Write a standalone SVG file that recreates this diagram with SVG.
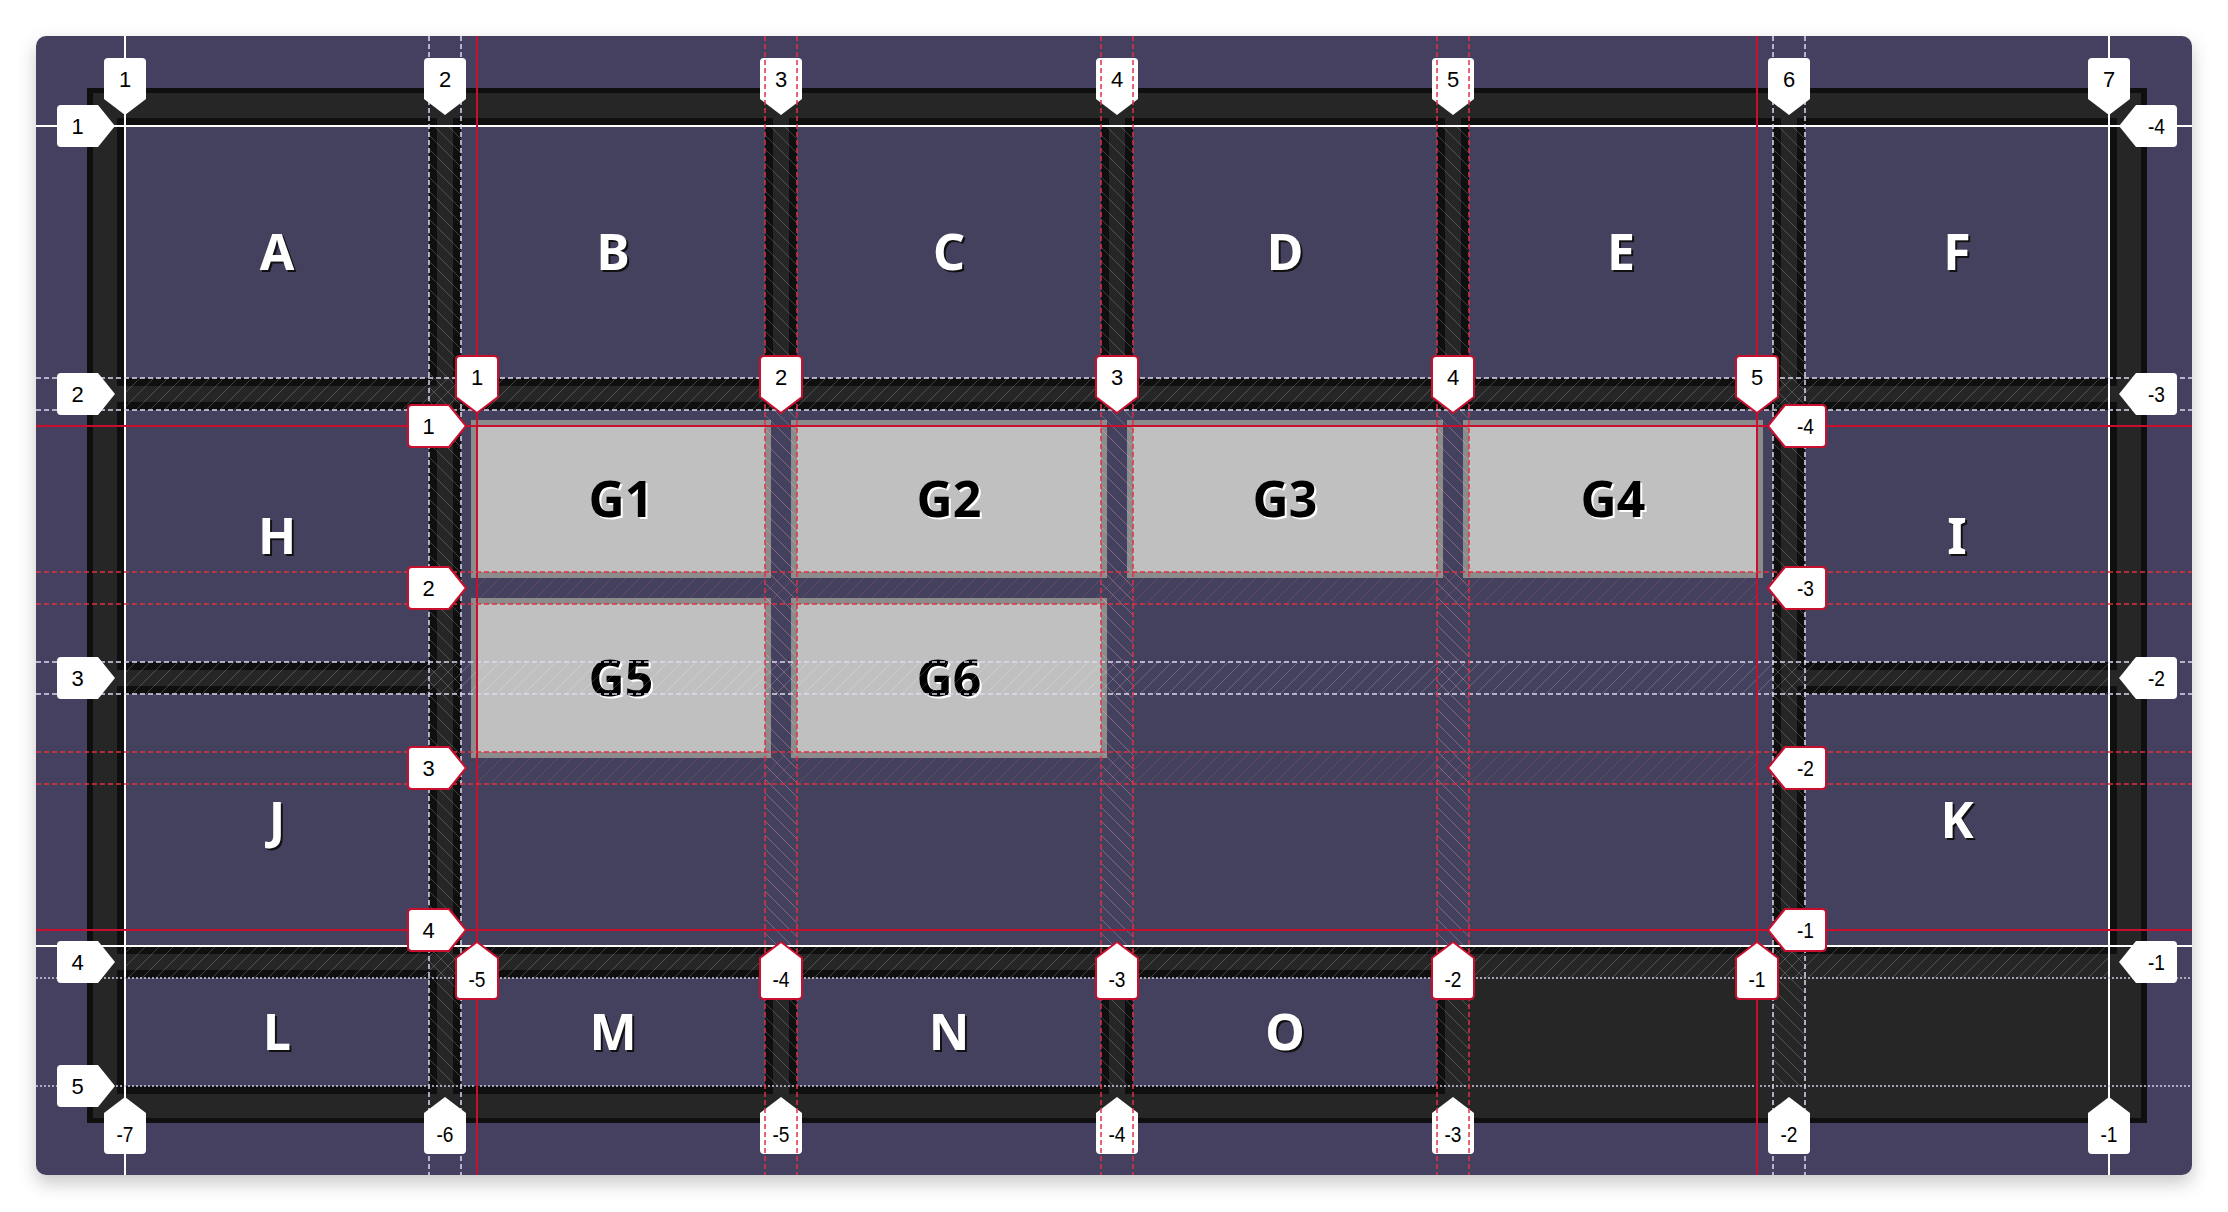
<svg xmlns="http://www.w3.org/2000/svg" xmlns:xlink="http://www.w3.org/1999/xlink" width="2228" height="1212" viewBox="0 0 2228 1212">
<style>
.blk{fill:#0f0f0f}
.pur{fill:#44415f}
.gb{fill:#8c8c8c}
.gf{fill:#c0c0c0}
.big{font-family:"Noto Sans","Liberation Sans",sans-serif;font-weight:700;font-size:50px;text-anchor:middle}
.bigW{fill:#ffffff}
.bigS{fill:#111111}
.gT{fill:#000000}
.gS{fill:#ffffff}
.lbl{font-family:"Liberation Sans",Arial,sans-serif;font-size:22px;text-anchor:middle;fill:#000}
.wl{fill:#ffffff}
.rl{fill:#ffffff;stroke:#c8102e;stroke-width:2;stroke-linejoin:round}
.ws{stroke:#ffffff;stroke-width:2;fill:none}
.wd{stroke:#dcdaf0;stroke-width:1.5;stroke-dasharray:5 3;fill:none}
.wo{stroke:#d0cee4;stroke-width:1.5;stroke-dasharray:2 2;fill:none}
.rs{stroke:#c8102e;stroke-width:2;fill:none}
.rd{stroke:#e0303e;stroke-width:1.5;stroke-dasharray:5 3;fill:none}
</style>
<defs>
<filter id="sh" x="-5%" y="-5%" width="110%" height="115%">
<feDropShadow dx="0" dy="8" stdDeviation="9" flood-color="#000" flood-opacity="0.22"/>
</filter>
<clipPath id="pc"><rect x="36" y="36" width="2156" height="1139" rx="10"/></clipPath>
<pattern id="hwF" patternUnits="userSpaceOnUse" width="14" height="14">
<path d="M0,14 L14,0 M-2,2 L2,-2 M12,16 L16,12" stroke="rgba(255,255,255,0.2)" stroke-width="1"/>
</pattern>
<pattern id="hwB" patternUnits="userSpaceOnUse" width="14" height="14">
<path d="M0,0 L14,14 M-2,12 L2,16 M12,-2 L16,2" stroke="rgba(255,255,255,0.2)" stroke-width="1"/>
</pattern>
<pattern id="hrF" patternUnits="userSpaceOnUse" width="14" height="14">
<path d="M0,14 L14,0 M-2,2 L2,-2 M12,16 L16,12" stroke="rgba(240,110,125,0.2)" stroke-width="1"/>
</pattern>
<pattern id="hrB" patternUnits="userSpaceOnUse" width="14" height="14">
<path d="M0,0 L14,14 M-2,12 L2,16 M12,-2 L16,2" stroke="rgba(240,110,125,0.2)" stroke-width="1"/>
</pattern>
<path id="lblR" d="M-54,-21 H-17 L0,0 L-17,21 H-54 Q-58,21 -58,17 V-17 Q-58,-21 -54,-21 Z"/>
<path id="lblL" d="M54,-21 H17 L0,0 L17,21 H54 Q58,21 58,17 V-17 Q58,-21 54,-21 Z"/>
<path id="lblD" d="M-21,-53 V-16 L0,0 L21,-16 V-53 Q21,-57 17,-57 H-17 Q-21,-57 -21,-53 Z"/>
<path id="lblU" d="M-21,53 V16 L0,0 L21,16 V53 Q21,57 17,57 H-17 Q-21,57 -21,53 Z"/>
</defs>

<rect x="0" y="0" width="2228" height="1212" fill="#ffffff"/>
<rect x="36" y="36" width="2156" height="1139" rx="10" fill="#44415f" filter="url(#sh)"/>

<g id="container">
<rect x="87" y="88" width="2060" height="1035" class="blk"/>
<rect x="93" y="93" width="2048" height="1025" fill="#262626"/>
</g>

<g id="A"><rect x="117" y="118" width="320" height="268" class="blk"/><rect x="125" y="126" width="304" height="252" class="pur"/>
<text x="279" y="272" class="big bigS">A</text><text x="277" y="270" class="big bigW">A</text></g>
<g id="B"><rect x="453" y="118" width="320" height="268" class="blk"/><rect x="461" y="126" width="304" height="252" class="pur"/>
<text x="615" y="272" class="big bigS">B</text><text x="613" y="270" class="big bigW">B</text></g>
<g id="C"><rect x="789" y="118" width="320" height="268" class="blk"/><rect x="797" y="126" width="304" height="252" class="pur"/>
<text x="951" y="272" class="big bigS">C</text><text x="949" y="270" class="big bigW">C</text></g>
<g id="D"><rect x="1125" y="118" width="320" height="268" class="blk"/><rect x="1133" y="126" width="304" height="252" class="pur"/>
<text x="1287" y="272" class="big bigS">D</text><text x="1285" y="270" class="big bigW">D</text></g>
<g id="E"><rect x="1461" y="118" width="320" height="268" class="blk"/><rect x="1469" y="126" width="304" height="252" class="pur"/>
<text x="1623" y="272" class="big bigS">E</text><text x="1621" y="270" class="big bigW">E</text></g>
<g id="F"><rect x="1797" y="118" width="320" height="268" class="blk"/><rect x="1805" y="126" width="304" height="252" class="pur"/>
<text x="1959" y="272" class="big bigS">F</text><text x="1957" y="270" class="big bigW">F</text></g>

<g id="H"><rect x="117" y="402" width="320" height="268" class="blk"/><rect x="125" y="410" width="304" height="252" class="pur"/>
<text x="279" y="556" class="big bigS">H</text><text x="277" y="554" class="big bigW">H</text></g>
<g id="I"><rect x="1797" y="402" width="320" height="268" class="blk"/><rect x="1805" y="410" width="304" height="252" class="pur"/>
<text x="1959" y="556" class="big bigS">I</text><text x="1957" y="554" class="big bigW">I</text></g>
<g id="J"><rect x="117" y="686" width="320" height="268" class="blk"/><rect x="125" y="694" width="304" height="252" class="pur"/>
<text x="279" y="840" class="big bigS">J</text><text x="277" y="838" class="big bigW">J</text></g>
<g id="K"><rect x="1797" y="686" width="320" height="268" class="blk"/><rect x="1805" y="694" width="304" height="252" class="pur"/>
<text x="1959" y="840" class="big bigS">K</text><text x="1957" y="838" class="big bigW">K</text></g>

<g id="G"><rect x="453" y="402" width="1328" height="552" class="blk"/><rect x="461" y="410" width="1312" height="536" class="pur"/></g>

<g id="L"><rect x="117" y="970" width="320" height="124" class="blk"/><rect x="125" y="978" width="304" height="108" class="pur"/>
<text x="279" y="1052" class="big bigS">L</text><text x="277" y="1050" class="big bigW">L</text></g>
<g id="M"><rect x="453" y="970" width="320" height="124" class="blk"/><rect x="461" y="978" width="304" height="108" class="pur"/>
<text x="615" y="1052" class="big bigS">M</text><text x="613" y="1050" class="big bigW">M</text></g>
<g id="N"><rect x="789" y="970" width="320" height="124" class="blk"/><rect x="797" y="978" width="304" height="108" class="pur"/>
<text x="951" y="1052" class="big bigS">N</text><text x="949" y="1050" class="big bigW">N</text></g>
<g id="O"><rect x="1125" y="970" width="320" height="124" class="blk"/><rect x="1133" y="978" width="304" height="108" class="pur"/>
<text x="1287" y="1052" class="big bigS">O</text><text x="1285" y="1050" class="big bigW">O</text></g>

<g id="G1"><rect x="471" y="420" width="300" height="158" class="gb"/><rect x="477" y="426" width="288" height="146" class="gf"/>
<text x="623" y="519" class="big gS">G1</text><text x="621" y="517" class="big gT">G1</text></g>
<g id="G2"><rect x="791" y="420" width="316" height="158" class="gb"/><rect x="797" y="426" width="304" height="146" class="gf"/>
<text x="951" y="519" class="big gS">G2</text><text x="949" y="517" class="big gT">G2</text></g>
<g id="G3"><rect x="1127" y="420" width="316" height="158" class="gb"/><rect x="1133" y="426" width="304" height="146" class="gf"/>
<text x="1287" y="519" class="big gS">G3</text><text x="1285" y="517" class="big gT">G3</text></g>
<g id="G4"><rect x="1463" y="420" width="300" height="158" class="gb"/><rect x="1469" y="426" width="288" height="146" class="gf"/>
<text x="1615" y="519" class="big gS">G4</text><text x="1613" y="517" class="big gT">G4</text></g>
<g id="G5"><rect x="471" y="598" width="300" height="160" class="gb"/><rect x="477" y="604" width="288" height="148" class="gf"/>
<text x="623" y="698" class="big gS">G5</text><text x="621" y="696" class="big gT">G5</text></g>
<g id="G6"><rect x="791" y="598" width="316" height="160" class="gb"/><rect x="797" y="604" width="304" height="148" class="gf"/>
<text x="951" y="698" class="big gS">G6</text><text x="949" y="696" class="big gT">G6</text></g>

<g id="hatching">
<rect x="429" y="126" width="32" height="960" fill="url(#hwB)"/>
<rect x="765" y="126" width="32" height="960" fill="url(#hwB)"/>
<rect x="1101" y="126" width="32" height="960" fill="url(#hwB)"/>
<rect x="1437" y="126" width="32" height="960" fill="url(#hwB)"/>
<rect x="1773" y="126" width="32" height="960" fill="url(#hwB)"/>
<rect x="125" y="378" width="1984" height="32" fill="url(#hwF)"/>
<rect x="125" y="662" width="1984" height="32" fill="url(#hwF)"/>
<rect x="125" y="946" width="1984" height="32" fill="url(#hwF)"/>
<rect x="765" y="426" width="32" height="504" fill="url(#hrB)"/>
<rect x="1101" y="426" width="32" height="504" fill="url(#hrB)"/>
<rect x="1437" y="426" width="32" height="504" fill="url(#hrB)"/>
<rect x="477" y="572" width="1280" height="32" fill="url(#hrF)"/>
<rect x="477" y="752" width="1280" height="32" fill="url(#hrF)"/>
</g>

<g id="connectors" clip-path="url(#pc)">
<g id="white-lines">
<line x1="125" y1="36" x2="125" y2="1175" class="ws"/>
<line x1="2109" y1="36" x2="2109" y2="1175" class="ws"/>
<line x1="36" y1="126" x2="2192" y2="126" class="ws"/>
<line x1="36" y1="946" x2="2192" y2="946" class="ws"/>
<line x1="429" y1="36" x2="429" y2="1175" class="wd"/>
<line x1="461" y1="36" x2="461" y2="1175" class="wd"/>
<line x1="1773" y1="36" x2="1773" y2="1175" class="wd"/>
<line x1="1805" y1="36" x2="1805" y2="1175" class="wd"/>
<line x1="36" y1="378" x2="2192" y2="378" class="wd"/>
<line x1="36" y1="410" x2="2192" y2="410" class="wd"/>
<line x1="36" y1="662" x2="2192" y2="662" class="wd"/>
<line x1="36" y1="694" x2="2192" y2="694" class="wd"/>
<line x1="36" y1="978" x2="2192" y2="978" class="wo"/>
<line x1="36" y1="1086" x2="2192" y2="1086" class="wo"/>
</g>
</g>

<g id="white-labels" class="lbl">
<use xlink:href="#lblD" href="#lblD" x="125" y="115" class="wl"/><text x="125" y="86.5">1</text>
<use xlink:href="#lblD" href="#lblD" x="445" y="115" class="wl"/><text x="445" y="86.5">2</text>
<use xlink:href="#lblD" href="#lblD" x="781" y="115" class="wl"/><text x="781" y="86.5">3</text>
<use xlink:href="#lblD" href="#lblD" x="1117" y="115" class="wl"/><text x="1117" y="86.5">4</text>
<use xlink:href="#lblD" href="#lblD" x="1453" y="115" class="wl"/><text x="1453" y="86.5">5</text>
<use xlink:href="#lblD" href="#lblD" x="1789" y="115" class="wl"/><text x="1789" y="86.5">6</text>
<use xlink:href="#lblD" href="#lblD" x="2109" y="115" class="wl"/><text x="2109" y="86.5">7</text>

<use xlink:href="#lblU" href="#lblU" x="125" y="1097" class="wl"/><text x="125" y="1141.5" textLength="17" lengthAdjust="spacingAndGlyphs">-7</text>
<use xlink:href="#lblU" href="#lblU" x="445" y="1097" class="wl"/><text x="445" y="1141.5" textLength="17" lengthAdjust="spacingAndGlyphs">-6</text>
<use xlink:href="#lblU" href="#lblU" x="781" y="1097" class="wl"/><text x="781" y="1141.5" textLength="17" lengthAdjust="spacingAndGlyphs">-5</text>
<use xlink:href="#lblU" href="#lblU" x="1117" y="1097" class="wl"/><text x="1117" y="1141.5" textLength="17" lengthAdjust="spacingAndGlyphs">-4</text>
<use xlink:href="#lblU" href="#lblU" x="1453" y="1097" class="wl"/><text x="1453" y="1141.5" textLength="17" lengthAdjust="spacingAndGlyphs">-3</text>
<use xlink:href="#lblU" href="#lblU" x="1789" y="1097" class="wl"/><text x="1789" y="1141.5" textLength="17" lengthAdjust="spacingAndGlyphs">-2</text>
<use xlink:href="#lblU" href="#lblU" x="2109" y="1097" class="wl"/><text x="2109" y="1141.5" textLength="17" lengthAdjust="spacingAndGlyphs">-1</text>

<use xlink:href="#lblR" href="#lblR" x="115" y="126" class="wl"/><text x="77.5" y="134">1</text>
<use xlink:href="#lblR" href="#lblR" x="115" y="394" class="wl"/><text x="77.5" y="402">2</text>
<use xlink:href="#lblR" href="#lblR" x="115" y="678" class="wl"/><text x="77.5" y="686">3</text>
<use xlink:href="#lblR" href="#lblR" x="115" y="962" class="wl"/><text x="77.5" y="970">4</text>
<use xlink:href="#lblR" href="#lblR" x="115" y="1086" class="wl"/><text x="77.5" y="1094">5</text>

<use xlink:href="#lblL" href="#lblL" x="2119" y="126" class="wl"/><text x="2156.5" y="134" textLength="17" lengthAdjust="spacingAndGlyphs">-4</text>
<use xlink:href="#lblL" href="#lblL" x="2119" y="394" class="wl"/><text x="2156.5" y="402" textLength="17" lengthAdjust="spacingAndGlyphs">-3</text>
<use xlink:href="#lblL" href="#lblL" x="2119" y="678" class="wl"/><text x="2156.5" y="686" textLength="17" lengthAdjust="spacingAndGlyphs">-2</text>
<use xlink:href="#lblL" href="#lblL" x="2119" y="962" class="wl"/><text x="2156.5" y="970" textLength="17" lengthAdjust="spacingAndGlyphs">-1</text>
</g>

<g id="red-lines" clip-path="url(#pc)">
<line x1="477" y1="36" x2="477" y2="1175" class="rs"/>
<line x1="1757" y1="36" x2="1757" y2="1175" class="rs"/>
<line x1="36" y1="426" x2="2192" y2="426" class="rs"/>
<line x1="36" y1="930" x2="2192" y2="930" class="rs"/>
<line x1="765" y1="36" x2="765" y2="1175" class="rd"/>
<line x1="797" y1="36" x2="797" y2="1175" class="rd"/>
<line x1="1101" y1="36" x2="1101" y2="1175" class="rd"/>
<line x1="1133" y1="36" x2="1133" y2="1175" class="rd"/>
<line x1="1437" y1="36" x2="1437" y2="1175" class="rd"/>
<line x1="1469" y1="36" x2="1469" y2="1175" class="rd"/>
<line x1="36" y1="572" x2="2192" y2="572" class="rd"/>
<line x1="36" y1="604" x2="2192" y2="604" class="rd"/>
<line x1="36" y1="752" x2="2192" y2="752" class="rd"/>
<line x1="36" y1="784" x2="2192" y2="784" class="rd"/>
</g>

<g id="red-labels" class="lbl">
<use xlink:href="#lblD" href="#lblD" x="477" y="413" class="rl"/><text x="477" y="384.5">1</text>
<use xlink:href="#lblD" href="#lblD" x="781" y="413" class="rl"/><text x="781" y="384.5">2</text>
<use xlink:href="#lblD" href="#lblD" x="1117" y="413" class="rl"/><text x="1117" y="384.5">3</text>
<use xlink:href="#lblD" href="#lblD" x="1453" y="413" class="rl"/><text x="1453" y="384.5">4</text>
<use xlink:href="#lblD" href="#lblD" x="1757" y="413" class="rl"/><text x="1757" y="384.5">5</text>

<use xlink:href="#lblU" href="#lblU" x="477" y="942" class="rl"/><text x="477" y="986.5" textLength="17" lengthAdjust="spacingAndGlyphs">-5</text>
<use xlink:href="#lblU" href="#lblU" x="781" y="942" class="rl"/><text x="781" y="986.5" textLength="17" lengthAdjust="spacingAndGlyphs">-4</text>
<use xlink:href="#lblU" href="#lblU" x="1117" y="942" class="rl"/><text x="1117" y="986.5" textLength="17" lengthAdjust="spacingAndGlyphs">-3</text>
<use xlink:href="#lblU" href="#lblU" x="1453" y="942" class="rl"/><text x="1453" y="986.5" textLength="17" lengthAdjust="spacingAndGlyphs">-2</text>
<use xlink:href="#lblU" href="#lblU" x="1757" y="942" class="rl"/><text x="1757" y="986.5" textLength="17" lengthAdjust="spacingAndGlyphs">-1</text>

<use xlink:href="#lblR" href="#lblR" x="466" y="426" class="rl"/><text x="428.5" y="434">1</text>
<use xlink:href="#lblR" href="#lblR" x="466" y="588" class="rl"/><text x="428.5" y="596">2</text>
<use xlink:href="#lblR" href="#lblR" x="466" y="768" class="rl"/><text x="428.5" y="776">3</text>
<use xlink:href="#lblR" href="#lblR" x="466" y="930" class="rl"/><text x="428.5" y="938">4</text>

<use xlink:href="#lblL" href="#lblL" x="1768" y="426" class="rl"/><text x="1805.5" y="434" textLength="17" lengthAdjust="spacingAndGlyphs">-4</text>
<use xlink:href="#lblL" href="#lblL" x="1768" y="588" class="rl"/><text x="1805.5" y="596" textLength="17" lengthAdjust="spacingAndGlyphs">-3</text>
<use xlink:href="#lblL" href="#lblL" x="1768" y="768" class="rl"/><text x="1805.5" y="776" textLength="17" lengthAdjust="spacingAndGlyphs">-2</text>
<use xlink:href="#lblL" href="#lblL" x="1768" y="930" class="rl"/><text x="1805.5" y="938" textLength="17" lengthAdjust="spacingAndGlyphs">-1</text>
</g>
</svg>
